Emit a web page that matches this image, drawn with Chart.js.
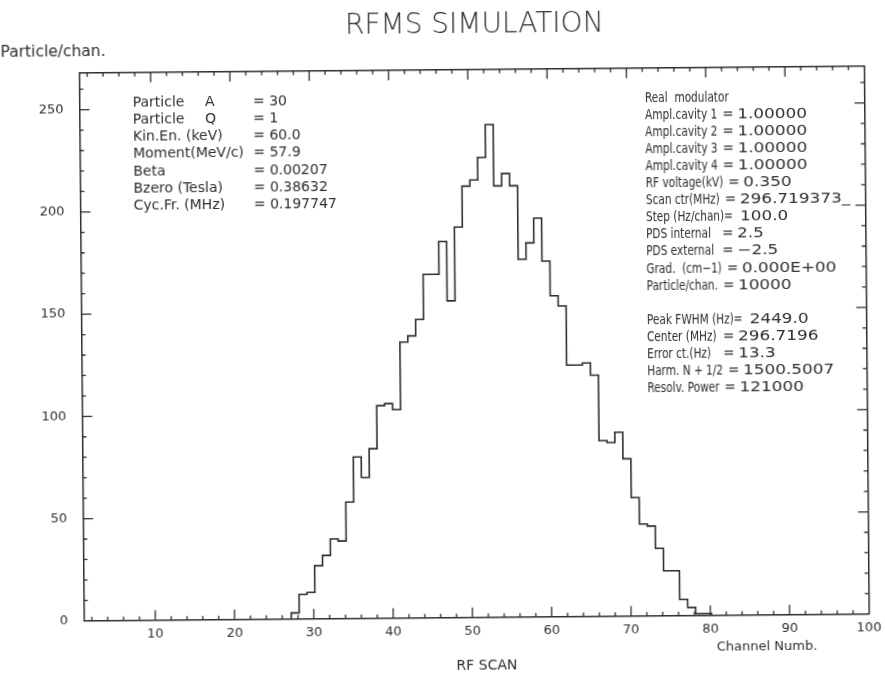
<!DOCTYPE html>
<html>
<head>
<meta charset="utf-8">
<title>RFMS SIMULATION</title>
<script src="https://cdn.jsdelivr.net/npm/chart.js@4.4.1/dist/chart.umd.min.js"></script>
<style>
  html, body { margin: 0; padding: 0; background: #fff; overflow: hidden; }
  canvas { display: block; transform: rotate(-0.5deg); transform-origin: 50% 50%; }
</style>
</head>
<body>
<canvas id="chart" width="885" height="673"></canvas>
<script>
"use strict";

// RF scan: channel number and particles counted in it
const channels = [27, 28, 29, 30, 31, 32, 33, 34, 35, 36, 37, 38, 39, 40, 41, 42, 43, 44, 45, 46,
  47, 48, 49, 50, 51, 52, 53, 54, 55, 56, 57, 58, 59, 60, 61, 62, 63, 64, 65, 66,
  67, 68, 69, 70, 71, 72, 73, 74, 75, 76, 77, 78, 79];
const counts = [3, 12, 13, 26, 31, 39, 38, 57, 79, 69, 83, 104, 105, 102, 135, 138, 146, 168, 168, 184,
  155, 191, 211, 214, 225, 241, 211, 217, 211, 175, 183, 195, 174, 157, 152, 123, 123, 124, 118, 86,
  85, 90, 77, 58, 45, 44, 33, 22, 22, 8, 4, 1, 1];

const xTicks = [10, 20, 30, 40, 50, 60, 70, 80, 90, 100];
const yTicks = [0, 50, 100, 150, 200, 250];

const chartTitle = "RFMS SIMULATION";
const yTitle = "Particle/chan.";
const xTitle = "Channel Numb.";
const scanTitle = "RF SCAN";

const leftLabels = ["Particle\tA", "Particle\tQ", "Kin.En. (keV)", "Moment(MeV/c)", "Beta", "Bzero (Tesla)", "Cyc.Fr. (MHz)"];
const leftValues = ["30", "1", "60.0", "57.9", "0.00207", "0.38632", "0.197747"];

// a label ending in "=" carries its own equals sign
const rightLabels = ["Real  modulator", "Ampl.cavity 1", "Ampl.cavity 2", "Ampl.cavity 3", "Ampl.cavity 4",
  "RF voltage(kV)", "Scan ctr(MHz)", "Step (Hz/chan)=", "PDS internal", "PDS external",
  "Grad.  (cm\u22121)", "Particle/chan.", "", "Peak FWHM (Hz)=", "Center (MHz)",
  "Error ct.(Hz)", "Harm. N + 1/2", "Resolv. Power"];
const rightValues = ["", "1.00000", "1.00000", "1.00000", "1.00000",
  "0.350", "296.719373_", "100.0", "2.5", "\u22122.5",
  "0.000E+00", "10000", "", "2449.0", "296.7196",
  "13.3", "1500.5007", "121000"];

const ink = "#2e2e2e";
const face = '"DejaVu Sans", "Liberation Sans", sans-serif';
const binShift = 0.15;

// histogram outline as a stepped line
const steps = [{ x: channels[0] + binShift, y: 0 }];
channels.forEach((c, i) => steps.push({ x: c + binShift, y: counts[i] }));
steps.push({ x: channels[channels.length - 1] + 1 + binShift, y: 0 });

// inward tick marks on all four sides of the frame
const frameTicks = {
  id: "frameTicks",
  afterDraw(chart) {
    const { ctx, chartArea: a, scales } = chart;
    const x = scales.x, y = scales.y;
    ctx.save();
    ctx.strokeStyle = ink;
    ctx.lineWidth = 1.3;
    ctx.beginPath();
    for (let v = 2; v < 100; v += 2) {
      const px = x.getPixelForValue(v);
      const len = v % 10 === 0 ? 10 : 4;
      ctx.moveTo(px, a.bottom);
      ctx.lineTo(px, a.bottom - len);
      ctx.moveTo(px, a.top);
      ctx.lineTo(px, a.top + len);
    }
    for (let v = 10; v <= 260; v += 10) {
      const py = y.getPixelForValue(v);
      const len = v % 50 === 0 ? 10 : 4;
      ctx.moveTo(a.left, py);
      ctx.lineTo(a.left + len, py);
      ctx.moveTo(a.right, py);
      ctx.lineTo(a.right - len, py);
    }
    ctx.stroke();
    ctx.restore();
  }
};

// draws text stretched or squeezed sideways, returns the width used
function stretched(ctx, text, x, y, sx) {
  ctx.save();
  ctx.translate(x, y);
  ctx.scale(sx, 1);
  ctx.fillText(text, 0, 0);
  ctx.restore();
  return ctx.measureText(text).width * sx;
}

const notes = {
  id: "notes",
  afterDraw(chart) {
    const ctx = chart.ctx;
    ctx.save();
    ctx.fillStyle = ink;
    ctx.textBaseline = "middle";

    ctx.textAlign = "center";
    ctx.font = "200 28px " + face;
    ctx.fillText(chartTitle, 477, 26);

    ctx.font = "14px " + face;
    ctx.fillText(scanTitle, 484, 666);

    ctx.textAlign = "left";
    ctx.font = "13px " + face;
    ctx.fillText(xTitle, 714, 650);
    ctx.font = "15.5px " + face;
    ctx.fillText(yTitle, 3, 49);

    ctx.font = "14px " + face;
    leftLabels.forEach((t, i) => {
      const yy = 100.6 + i * 17.07;
      const parts = t.split("\t");
      ctx.fillText(parts[0], 134.7, yy);
      if (parts[1]) ctx.fillText(parts[1], 207, yy);
      ctx.fillText("= " + leftValues[i], 255, yy);
    });

    ctx.font = "13.5px " + face;
    rightLabels.forEach((t, i) => {
      const yy = 100.3 + i * 17.07;
      const v = rightValues[i];
      let w = 0;
      if (t) w = stretched(ctx, t, 647, yy, 0.78);
      if (!v) return;
      if (t.endsWith("=")) {
        stretched(ctx, v, 647 + w + 7, yy, 1.25);
      } else {
        const eq = Math.max(723, 647 + w + 5);
        stretched(ctx, "=", eq, yy, 1);
        stretched(ctx, v, eq + 15, yy, 1.25);
      }
    });
    ctx.restore();
  }
};

const tickFont = { family: face, size: 13 };

new Chart(document.getElementById("chart"), {
  type: "line",
  data: {
    datasets: [{
      data: steps,
      stepped: "before",
      borderColor: ink,
      borderWidth: 1.6,
      pointRadius: 0,
      fill: false
    }]
  },
  options: {
    responsive: false,
    animation: false,
    devicePixelRatio: 1,
    layout: { padding: { left: 0, right: 18.5, top: 69.8, bottom: 0 } },
    plugins: { legend: { display: false }, tooltip: { enabled: false }, title: { display: false } },
    scales: {
      x: {
        type: "linear", position: "bottom", min: 1, max: 100,
        afterBuildTicks: s => { s.ticks = xTicks.map(v => ({ value: v })); },
        afterFit: s => { s.height = 55.2; },
        grid: { display: false, drawTicks: false },
        border: { display: true, color: ink, width: 1.5 },
        ticks: { color: ink, font: tickFont, padding: 6, maxRotation: 0, autoSkip: false }
      },
      xTop: {
        type: "linear", position: "top", min: 1, max: 100,
        afterFit: s => { s.height = 0; },
        grid: { display: false, drawTicks: false },
        border: { display: true, color: ink, width: 1.5 },
        ticks: { display: false }
      },
      y: {
        type: "linear", position: "left", min: 0, max: 268,
        afterBuildTicks: s => { s.ticks = yTicks.map(v => ({ value: v })); },
        afterFit: s => { s.width = 81.5; },
        grid: { display: false, drawTicks: false },
        border: { display: true, color: ink, width: 1.5 },
        ticks: { color: ink, font: tickFont, padding: 16 }
      },
      yRight: {
        type: "linear", position: "right", min: 0, max: 268,
        afterFit: s => { s.width = 0; },
        grid: { display: false, drawTicks: false },
        border: { display: true, color: ink, width: 1.5 },
        ticks: { display: false }
      }
    }
  },
  plugins: [frameTicks, notes]
});
</script>
</body>
</html>
